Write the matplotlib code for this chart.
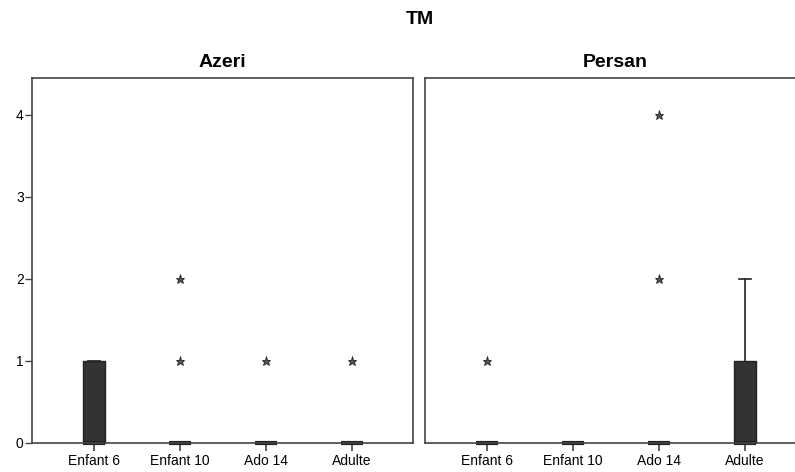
import numpy as np
import matplotlib
matplotlib.use("Agg")
import matplotlib.pyplot as plt

plt.rcParams['font.family'] = ['Liberation Sans', 'DejaVu Sans']

# Données
groupes = ["Enfant 6", "Enfant 10", "Ado 14", "Adulte"]
panneaux = ["Azeri", "Persan"]

# Azeri
az_q1 = [0, 0, 0, 0]
az_med = [0, 0, 0, 0]
az_q3 = [1, 0, 0, 0]
az_whislo = [0, 0, 0, 0]
az_whishi = [1, 0, 0, 0]
az_fliers = [[], [1, 2], [1], [1]]

# Persan
pe_q1 = [0, 0, 0, 0]
pe_med = [0, 0, 0, 0]
pe_q3 = [0, 0, 0, 1]
pe_whislo = [0, 0, 0, 0]
pe_whishi = [0, 0, 0, 2]
pe_fliers = [[1], [], [2, 4], []]

yticks = [0, 1, 2, 3, 4]


def stats(q1, med, q3, wlo, whi, fl):
    out = []
    for i in range(len(groupes)):
        out.append(dict(q1=q1[i], med=med[i], q3=q3[i], whislo=wlo[i],
                        whishi=whi[i], fliers=fl[i], label=groupes[i]))
    return out


donnees = [stats(az_q1, az_med, az_q3, az_whislo, az_whishi, az_fliers),
           stats(pe_q1, pe_med, pe_q3, pe_whislo, pe_whishi, pe_fliers)]

fig = plt.figure(figsize=(7.95, 4.72), dpi=100)
W, H = 795.0, 472.0
ax1 = fig.add_axes([32 / W, 1 - 443 / H, 381 / W, 365 / H])
ax2 = fig.add_axes([425 / W, 1 - 443 / H, 381 / W, 365 / H])

spine_col = "#444444"
for k, ax in enumerate([ax1, ax2]):
    res = ax.bxp(donnees[k], positions=[1, 2, 3, 4], widths=0.26, patch_artist=True,
                 showcaps=True,
                 boxprops=dict(facecolor="#333333", edgecolor="#222222", linewidth=1),
                 medianprops=dict(color="#222222", linewidth=3),
                 whiskerprops=dict(color="#222222", linewidth=1.2),
                 capprops=dict(color="#222222", linewidth=1.2),
                 flierprops=dict(marker="*", markersize=6.5, markerfacecolor="#555555",
                                 markeredgecolor="#222222", markeredgewidth=0.6,
                                 linestyle="none"))
    for items in res.values():
        for a in items:
            a.set_clip_on(False)
    ax.set_xlim(0.279, 4.709)
    ax.set_ylim(0, 4.45)
    ax.set_title(panneaux[k], fontsize=14, fontweight="bold", pad=8)
    ax.set_xticks([1, 2, 3, 4])
    ax.set_xticklabels(groupes, fontsize=10)
    ax.tick_params(axis="x", length=6, width=1.2, color=spine_col, pad=2)
    for s in ax.spines.values():
        s.set_color(spine_col)
        s.set_linewidth(1.2)

ax1.set_yticks(yticks)
ax1.set_yticklabels([str(v) for v in yticks], fontsize=10)
ax1.tick_params(axis="y", length=5, width=1, color=spine_col, pad=1)
ax2.set_yticks([])

fig.text(420 / W, 1 - 20 / H, "TM", ha="center", va="center",
         fontsize=14, fontweight="bold")

fig.savefig("out.png", dpi=100)
